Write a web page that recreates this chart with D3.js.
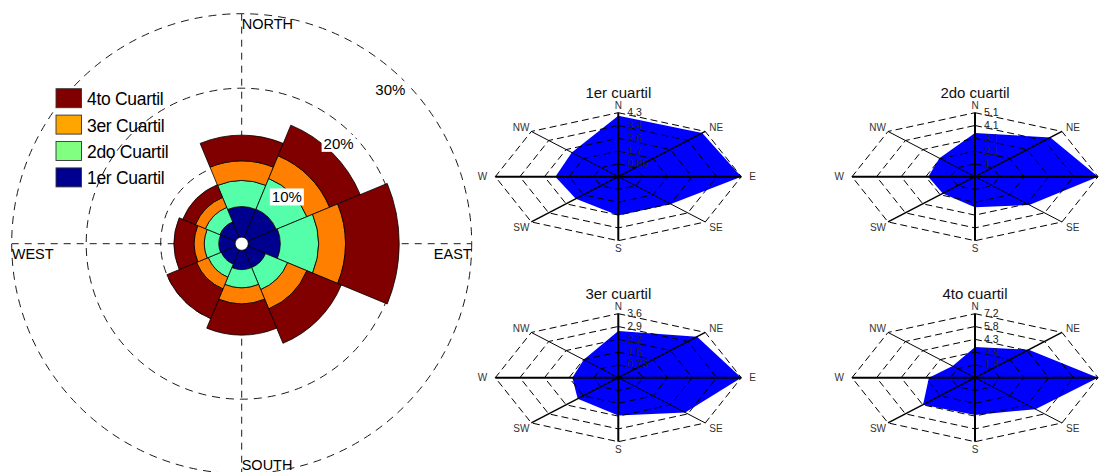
<!DOCTYPE html>
<html>
<head>
<meta charset="utf-8">
<script src="https://cdn.jsdelivr.net/npm/d3@7"></script>
<style>
  html, body { margin: 0; padding: 0; background: #fff; }
  svg { display: block; font-family: Arial, "Liberation Sans", Helvetica, sans-serif; }
</style>
</head>
<body>
<svg id="chart" width="1104" height="472"></svg>
<script>
// ---------------- data ----------------
const directions = ["N", "NE", "E", "SE", "S", "SW", "W", "NW"];
const compassLabels = ["NORTH", "EAST", "SOUTH", "WEST"];
const legendNames = ["4to Cuartil", "3er Cuartil", "2do Cuartil", "1er Cuartil"];
const spiderTitles = ["1er cuartil", "2do cuartil", "3er cuartil", "4to cuartil"];
// frequency (%) per direction, per quartile (N, NE, E, SE, S, SW, W, NW)
const q1 = [4.1, 4.15, 4.3, 2.6, 2.6, 2.1, 2.2, 2.3];
const q2 = [3.5, 4.45, 5.13, 3.2, 2.45, 1.9, 1.95, 2.1];
const q3 = [2.65, 3.3, 3.64, 2.8, 2.15, 1.7, 1.36, 1.45];
const q4 = [3.45, 4.45, 7.2, 5.0, 4.2, 4.3, 2.7, 1.85];
const ringPercents = [10, 20, 30];
const spiderLevels = [1, 2, 3, 4, 5];

const quartiles = [q1, q2, q3, q4];
const barColors = ["#00008F", "#55FFAA", "#FF8000", "#800000"];
const legendColors = ["#800000", "#FFA500", "#80FF80", "#000090"];

const svg = d3.select("#chart");

// ---------------- wind rose ----------------
const cx = 241.7, cy = 243.7;
const r = d3.scaleLinear().domain([0, 30]).range([6.5, 230]);
const ang = d3.scaleLinear().domain([0, directions.length]).range([0, 2 * Math.PI]);
const rose = svg.append("g").attr("transform", `translate(${cx},${cy})`);

// rings
rose.selectAll("circle.ring").data(ringPercents).join("circle")
  .attr("r", d => r(d)).attr("fill", "none")
  .attr("stroke", "#000").attr("stroke-width", 0.9).attr("stroke-dasharray", "8,6");
// axes
const rMax = r(d3.max(ringPercents));
rose.append("line").attr("x1", 0).attr("x2", 0).attr("y1", -rMax).attr("y2", rMax)
  .attr("stroke", "#000").attr("stroke-width", 0.9).attr("stroke-dasharray", "7,6");
rose.append("line").attr("x1", -rMax).attr("x2", rMax).attr("y1", 0).attr("y2", 0)
  .attr("stroke", "#000").attr("stroke-width", 0.9).attr("stroke-dasharray", "7,6");

// stacked sectors
const arc = d3.arc();
const half = Math.PI / directions.length;
const bands = [];
directions.forEach((d, i) => {
  let cum = 0;
  quartiles.forEach((q, k) => {
    const start = cum;
    cum += q[i];
    bands.push({ i, k, start, end: cum });
  });
});
rose.selectAll("path.band").data(bands).join("path")
  .attr("d", b => arc({
    innerRadius: r(b.start), outerRadius: r(b.end),
    startAngle: ang(b.i) - half, endAngle: ang(b.i) + half
  }))
  .attr("fill", b => barColors[b.k])
  .attr("stroke", "#000").attr("stroke-width", 0.8);
rose.append("circle").attr("r", r(0)).attr("fill", "#fff")
  .attr("stroke", "#000").attr("stroke-width", 0.6);

// ring labels
const labAng = 44 * Math.PI / 180;
ringPercents.forEach(p => {
  const rr = r(p) - 16;
  const x = rr * Math.sin(labAng), y = -rr * Math.cos(labAng);
  rose.append("rect").attr("x", x - 17).attr("y", y - 8.5).attr("width", 34).attr("height", 17)
    .attr("fill", "#fff");
  rose.append("text").attr("x", x).attr("y", y + 5.5).attr("text-anchor", "middle")
    .attr("font-size", 15).attr("fill", "#000").text(p + "%");
});

// compass labels
const cFont = 14.5;
rose.append("text").attr("x", 0).attr("y", -rMax + 15).attr("font-size", cFont).text(compassLabels[0]);
rose.append("text").attr("x", rMax).attr("y", 15).attr("text-anchor", "end").attr("font-size", cFont).text(compassLabels[1]);
rose.append("text").attr("x", 0).attr("y", rMax - 3.5).attr("font-size", cFont).text(compassLabels[2]);
rose.append("text").attr("x", -rMax).attr("y", 15).attr("font-size", cFont).text(compassLabels[3]);

// legend
const leg = svg.append("g").attr("transform", "translate(56,88.7)");
legendNames.forEach((name, i) => {
  const g = leg.append("g").attr("transform", `translate(0,${i * 26.4})`);
  g.append("rect").attr("width", 25.5).attr("height", 19).attr("fill", legendColors[i])
    .attr("stroke", "#333").attr("stroke-width", 0.9);
  g.append("text").attr("x", 31).attr("y", 16.5).attr("font-size", 17.5)
    .attr("letter-spacing", -0.3).attr("fill", "#000").text(name);
});

// ---------------- spider plots ----------------
const centers = [[618.3, 176.7], [975, 176.7], [618.3, 377.7], [975, 377.7]];
const Rx = 123, Ry = 64;
const fmt = d3.format(".2~g");
const axisWidths = [2, 1.5, 2, 1, 2, 1.5, 2, 1];

quartiles.forEach((vals, k) => {
  const [sx, sy] = centers[k];
  const maxV = d3.max(vals);
  const f = d3.scaleLinear().domain([0, maxV]).range([0, 1]);
  const lev = d3.scaleLinear().domain([0, d3.max(spiderLevels)]).range([0, 1]);
  const pt = (i, frac) => [Rx * frac * Math.sin(ang(i)), -Ry * frac * Math.cos(ang(i))];
  const g = svg.append("g").attr("transform", `translate(${sx},${sy})`);
  const line = d3.line();

  // data polygon
  g.append("path").attr("d", line(vals.map((v, i) => pt(i, f(v)))) + "Z")
    .attr("fill", "#0000FF").attr("stroke", "none");

  // dashed rings
  spiderLevels.forEach(l => {
    g.append("path").attr("d", line(directions.map((d, i) => pt(i, lev(l)))) + "Z")
      .attr("fill", "none").attr("stroke", "#000").attr("stroke-width", 1)
      .attr("stroke-dasharray", "7,4");
  });

  // axes
  directions.forEach((d, i) => {
    const [x, y] = pt(i, 1);
    g.append("line").attr("x1", 0).attr("y1", 0).attr("x2", x).attr("y2", y)
      .attr("stroke", "#000").attr("stroke-width", axisWidths[i]);
  });

  // direction labels
  directions.forEach((d, i) => {
    const [x, y] = pt(i, 1);
    let tx = x, ty = y, anchor = "middle";
    if (d === "N") { ty = y - 4; }
    else if (d === "S") { ty = y + 11; }
    else if (d === "E") { tx = x + 8; ty = y + 3.5; anchor = "start"; }
    else if (d === "W") { tx = x - 8; ty = y + 3.5; anchor = "end"; }
    else if (d === "NE") { tx = x + 4; ty = y; anchor = "start"; }
    else if (d === "SE") { tx = x + 4; ty = y + 9; anchor = "start"; }
    else if (d === "NW") { tx = x - 2; ty = y; anchor = "end"; }
    else if (d === "SW") { tx = x - 2; ty = y + 9; anchor = "end"; }
    g.append("text").attr("x", tx).attr("y", ty).attr("text-anchor", anchor)
      .attr("font-size", 10).attr("fill", "#333").text(d);
  });

  // tick labels on the N axis
  spiderLevels.forEach(l => {
    const [, y] = pt(0, lev(l));
    g.append("text").attr("x", 9).attr("y", y + 3.5)
      .attr("font-size", 10.5).attr("fill", "#222").text(fmt(maxV * lev(l)));
  });

  // title
  g.append("text").attr("x", 0).attr("y", -78.5).attr("text-anchor", "middle")
    .attr("font-size", 15).attr("fill", "#111").text(spiderTitles[k]);
});
</script>
</body>
</html>
